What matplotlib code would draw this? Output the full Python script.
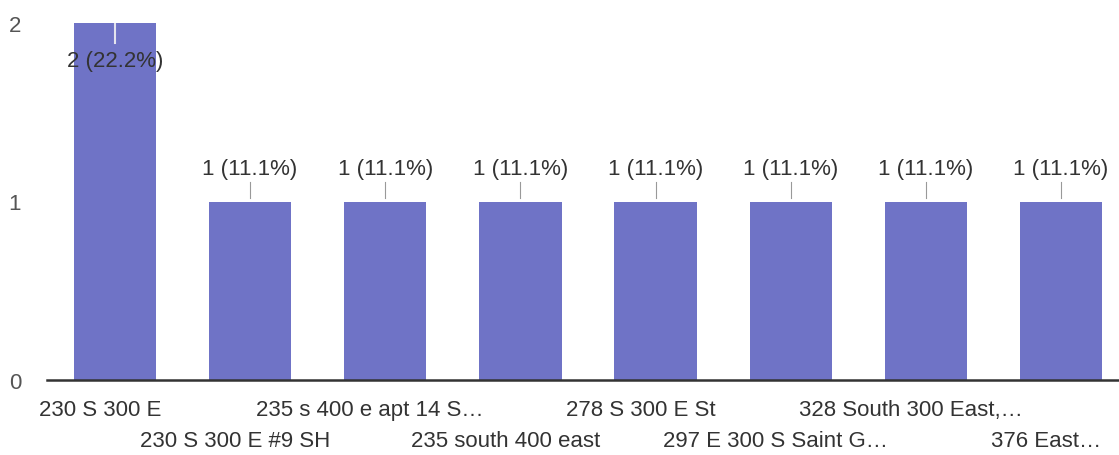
import matplotlib
matplotlib.use("Agg")
import matplotlib.pyplot as plt

plt.rcParams["font.family"] = ["Liberation Sans", "DejaVu Sans"]

categories = ["230 S 300 E", "230 S 300 E #9 SH", "235 s 400 e apt 14 S…",
              "235 south 400 east", "278 S 300 E St", "297 E 300 S Saint G…",
              "328 South 300 East,…", "376 East…"]
counts = [2, 1, 1, 1, 1, 1, 1, 1]
percents = [22.2, 11.1, 11.1, 11.1, 11.1, 11.1, 11.1, 11.1]
yticks = [0, 1, 2]

W, H = 1119, 456
fig = plt.figure(figsize=(W / 100, H / 100), dpi=100)
ax = fig.add_axes([47.4 / W, (H - 381) / H, 1 - 47.4 / W, 357 / H])

bar_color = "#6f73c6"
x = list(range(len(categories)))
ax.bar(x, counts, width=0.61, color=bar_color, zorder=2)

ax.set_xlim(-0.5, len(categories) - 0.5 - 9.6 / 135.2)
ax.set_ylim(0, 2)
for s in ["top", "right", "left"]:
    ax.spines[s].set_visible(False)
ax.spines["bottom"].set_color("#333333")
ax.spines["bottom"].set_linewidth(1.8)
ax.spines["bottom"].set_zorder(3)

ax.set_yticks(yticks)
ax.set_yticklabels([str(v) for v in yticks], fontsize=16, color="#555555")
ax.tick_params(axis="y", length=0, pad=19)
ax.tick_params(axis="x", length=0)
ax.set_xticks(x)
ax.set_xticklabels([])

# alternating two-row category labels
for i, lab in enumerate(categories):
    row = i % 2
    ax.annotate(lab, xy=(i, 0), xycoords="data",
                xytext=(-15, -30 - row * 31), textcoords="offset pixels",
                ha="center", va="center", fontsize=16, color="#333333",
                annotation_clip=False)

ymax = ax.get_ylim()[1]
for i, (c, p) in enumerate(zip(counts, percents)):
    lab = f"{c} ({p:.1f}%)"
    if c >= ymax:
        ax.plot([i, i], [c, c - 0.11], color="#e4e4ee", lw=1.5, zorder=3)
        ax.annotate(lab, xy=(i, c), xytext=(0, -38), textcoords="offset pixels",
                    ha="center", va="center", fontsize=16, color="#333333", zorder=4)
    else:
        ax.plot([i, i], [c + 0.02, c + 0.11], color="#999999", lw=0.8, zorder=3)
        ax.annotate(lab, xy=(i, c), xytext=(0, 33), textcoords="offset pixels",
                    ha="center", va="center", fontsize=16, color="#333333")

fig.savefig("out.png", dpi=100, facecolor="white")
